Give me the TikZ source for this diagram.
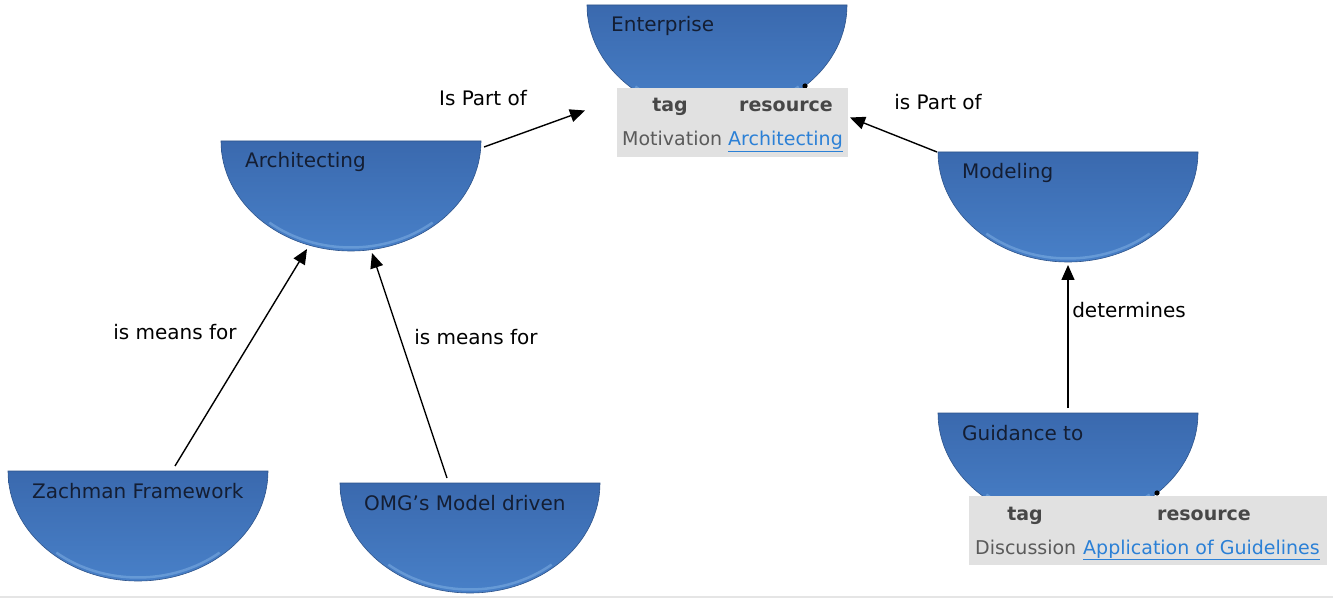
\documentclass[tikz,border=0pt]{standalone}
\usepackage{fontspec}
\setmainfont{DejaVu Sans}
\usetikzlibrary{arrows.meta,calc}
\definecolor{shapetop}{HTML}{3A69AE}
\definecolor{shapebot}{HTML}{4880C8}
\definecolor{shaperim}{HTML}{8DBBEA}
\definecolor{shapetxt}{HTML}{141E33}
\definecolor{tabbg}{HTML}{E1E1E1}
\definecolor{tabtxt}{HTML}{5A5A5A}
\definecolor{tabhead}{HTML}{474747}
\definecolor{linkblue}{HTML}{2B80D6}
\tikzset{
  cbox/.style={minimum width=260pt, minimum height=110pt, inner sep=0pt, outer sep=0pt, draw=none, anchor=north west},
  ctext/.style={anchor=west, inner sep=0pt, text=shapetxt, font=\fontsize{20}{24}\selectfont, text height=14pt, text depth=4pt},
  arr/.style={draw=black, line width=1.4pt, -{Triangle[length=15pt,width=13pt]}},
  elabel/.style={inner sep=0pt, text=black, font=\fontsize{20}{24}\selectfont},
  tabbox/.style={fill=tabbg, draw=none, inner sep=0pt, outer sep=0pt, anchor=north west},
  thead/.style={inner sep=0pt, text=tabhead, font=\bfseries\fontsize{19}{23}\selectfont, text height=14pt, text depth=4pt},
  tcell/.style={inner sep=0pt, anchor=west, text=tabtxt, font=\fontsize{19}{23}\selectfont, text height=14pt, text depth=4pt},
  tlink/.style={tcell, text=linkblue},
}
\newcommand\mkconcept[4]{%
  \node[cbox] (#1) at (#2pt,-#3pt) {};
  \shade[top color=shapetop, bottom color=shapebot, draw=shapetop!80!black, line width=0.6pt]
    (#1.north west) arc[start angle=180, end angle=360, x radius=130pt, y radius=110pt] -- cycle;
  \draw[shaperim, opacity=0.45, line width=2.5pt]
    ($(#1.north)+(230:127pt and 106.5pt)$) arc[start angle=230, end angle=310, x radius=127pt, y radius=106.5pt];
  \node[ctext] (#1-t) at ([xshift=24pt,yshift=-22pt]#1.north west) {#4};
}
\begin{document}
\begin{tikzpicture}[x=1pt,y=1pt]
\useasboundingbox (0,0) rectangle (1333,-601);
\fill[white] (0,0) rectangle (1333,-601);
\draw[black!10, line width=1.5pt] (0,-597) -- (1333,-597);

% concepts
\mkconcept{ent}{587}{5}{Enterprise}
\mkconcept{arch}{221}{141}{Architecting}
\mkconcept{mod}{938}{152}{Modeling}
\mkconcept{zach}{8}{471}{Zachman Framework}
\mkconcept{omg}{340}{483}{OMG\symbol{39}s Model driven}
\mkconcept{guid}{938}{413}{Guidance to}

% small marks
\fill[black] (805,-86) circle (2.6pt);
\fill[black] (1157,-493) circle (2.6pt);

% tables
\node[tabbox, minimum width=231pt, minimum height=69pt] (tab1) at (617,-88) {};
\node[thead] (tab1-h1) at ([xshift=53pt,yshift=-19pt]tab1.north west) {tag};
\node[thead] (tab1-h2) at ([xshift=169pt,yshift=-19pt]tab1.north west) {resource};
\node[tcell] (tab1-c1) at ([xshift=5pt,yshift=-53pt]tab1.north west) {Motivation};
\node[tlink] (tab1-c2) at ([xshift=111pt,yshift=-53pt]tab1.north west) {\underline{Architecting}};

\node[tabbox, minimum width=358pt, minimum height=69pt] (tab2) at (969,-496) {};
\node[thead] (tab2-h1) at ([xshift=56pt,yshift=-19pt]tab2.north west) {tag};
\node[thead] (tab2-h2) at ([xshift=235pt,yshift=-19pt]tab2.north west) {resource};
\node[tcell] (tab2-c1) at ([xshift=6pt,yshift=-53pt]tab2.north west) {Discussion};
\node[tlink] (tab2-c2) at ([xshift=114pt,yshift=-53pt]tab2.north west) {\underline{Application of Guidelines}};

% connectors
\draw[arr] ([xshift=37pt,yshift=5pt]zach.north) -- ([xshift=-44pt,yshift=2pt]arch.south);
\draw[arr] ([xshift=-23pt,yshift=5pt]omg.north) -- ([xshift=21pt,yshift=-2pt]arch.south);
\draw[arr] ([xshift=3pt,yshift=-6pt]arch.north east) -- ([xshift=-32pt,yshift=12pt]tab1.west);
\draw[arr] ([xshift=-1pt]mod.north west) -- ([xshift=2pt,yshift=5pt]tab1.east);
\draw[arr] ([yshift=5pt]guid.north) -- ([yshift=-3pt]mod.south);

% labels
\node[elabel] (l1) at (483,-98) {Is Part of};
\node[elabel] (l2) at (938,-102) {is Part of};
\node[elabel] (l3) at (175,-332) {is means for};
\node[elabel] (l4) at (476,-337) {is means for};
\node[elabel] (l5) at (1129,-310) {determines};
\end{tikzpicture}
\end{document}
